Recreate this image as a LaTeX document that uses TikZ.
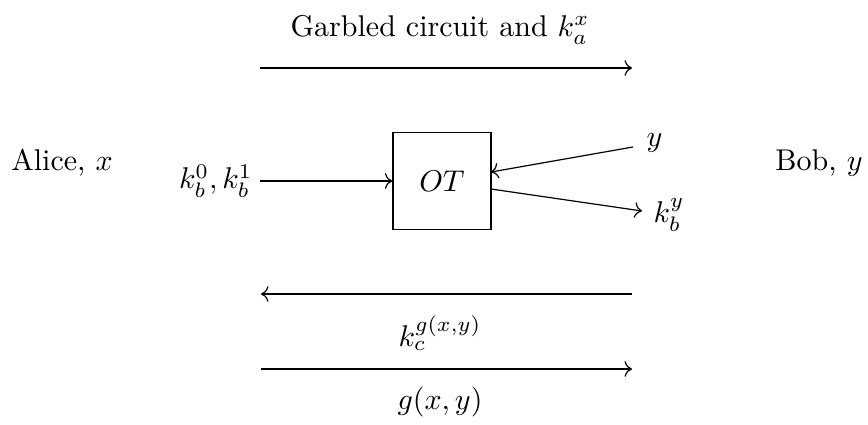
\documentclass[tikz,border=0pt]{standalone}
\usetikzlibrary{arrows.meta}
\begin{document}
\begin{tikzpicture}[x=0.3333pt,y=-0.3333pt,
  lbl/.style={inner sep=0pt},
  msg/.style={->},
  box/.style={draw,minimum width=98*0.3333pt,minimum height=97*0.3333pt,inner sep=0pt}]
\useasboundingbox (0,0) rectangle (868,424);
\node[lbl] (alice) at (62,163) {Alice, $x$};
\node[lbl] (bob) at (819,163) {Bob, $y$};
\node[lbl] (title) at (440,30) {Garbled circuit and $k_a^x$};
\coordinate (t1) at (260,68);
\coordinate (t2) at (632,68);
\draw[msg] (t1) -- (t2);
\node[lbl,anchor=east] (kb) at (253,181) {$k_b^0,k_b^1$};
\node[box] (ot) at (442,181) {$OT$};
\coordinate (kbs) at (260,181);
\draw[msg] (kbs) -- (ot.west);
\node[lbl,anchor=west] (yy) at (646,143) {$y$};
\coordinate (ys) at (633,147);
\coordinate (ye) at (491,172);
\draw[msg] (ys) -- (ye);
\node[lbl,anchor=west] (kby) at (653,215) {$k_b^y$};
\coordinate (ks) at (491,189);
\coordinate (ke) at (642,211);
\draw[msg] (ks) -- (ke);
\coordinate (b1) at (632,294);
\coordinate (b2) at (261,294);
\draw[msg] (b1) -- (b2);
\node[lbl] (kc) at (440,333) {$k_c^{g(x,y)}$};
\coordinate (c1) at (261,369);
\coordinate (c2) at (632,369);
\draw[msg] (c1) -- (c2);
\node[lbl] (g) at (440,402) {$g(x,y)$};
\end{tikzpicture}
\end{document}
